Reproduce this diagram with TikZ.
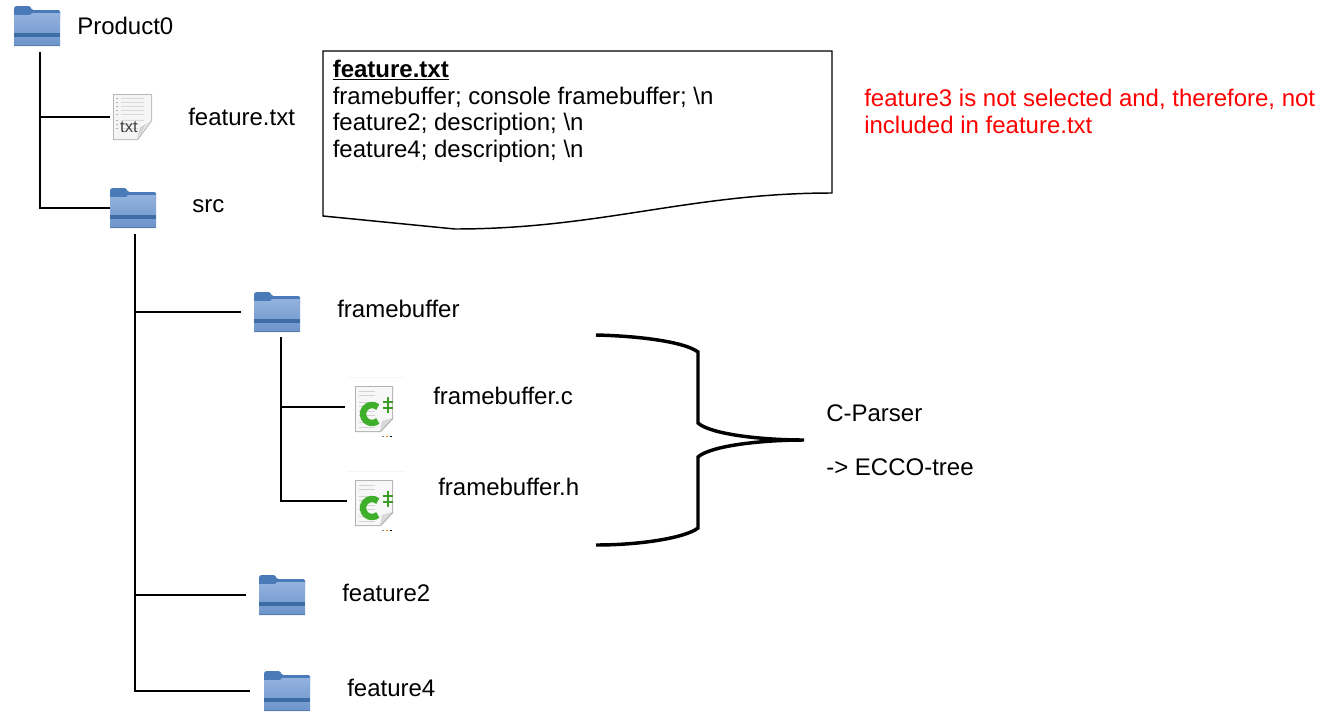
\documentclass[tikz,border=0pt]{standalone}
\usepackage{fontspec}
\setmainfont{Liberation Sans}
\usepackage{tikz}
\usetikzlibrary{positioning}
\definecolor{folderback}{HTML}{4A7AB8}
\definecolor{foldertop}{HTML}{93B2DE}
\definecolor{folderlow}{HTML}{6C94CB}
\definecolor{folderband}{HTML}{3D6CA6}
\definecolor{cgreen}{HTML}{3FAE2A}

\begin{document}
\begin{tikzpicture}[
		x=0.75pt,y=-0.75pt,
		every node/.style={font=\fontsize{18}{20}\selectfont,inner sep=0pt},
		link/.style={line width=0.9pt,black},
		lbl/.style={anchor=base west},
		folder/.style={minimum width=34.5pt,minimum height=30pt},
		txtfile/.style={minimum width=29.25pt,minimum height=34.5pt},
		cfile/.style={minimum width=45pt,minimum height=45pt},
		folderpic/.pic={
			\begin{scope}[shift={(-23,-20)}]
				\fill[folderback, rounded corners=1pt] (0,2) -- (1,0) -- (16,0) -- (18,4) -- (46,4) -- (46,14) -- (0,14) -- cycle;
				\shade[top color=foldertop, bottom color=folderlow] (0,9) -- (16,9) -- (18,7) -- (46,7) -- (46,40) -- (0,40) -- cycle;
				\fill[folderband] (0,27) rectangle (46,30.5);
				\fill[folderlow!85!black] (0,38.5) rectangle (46,40);
			\end{scope}
		},
		txtpic/.pic={
			\begin{scope}[shift={(-19.5,-23)}]
				\fill[gray!55] (0,0) -- (39,0) -- (39,27) -- (25,46) -- (0,46) -- cycle;
				\fill[gray!8] (1,1) -- (38,1) -- (38,26) -- (24,45) -- (1,45) -- cycle;
				\foreach \row in {4,8,12,16,20,26,30,34}{
					\fill[gray!60] (3,\row) rectangle (5,\row+1);
					\fill[gray!30] (8,\row) rectangle (31,\row+1);
				}
				\fill[white] (24,45) -- (26,31) -- (38,26) -- cycle;
				\fill[gray!35] (24,45) -- (27,33) -- (38,27) -- (33,31) -- cycle;
				\node[font=\fontsize{12.5}{14}\selectfont, text=black!75, anchor=base] at (16,38) {txt};
			\end{scope}
		},
		cpic/.pic={
			\begin{scope}[shift={(-30,-30)}]
				\draw[gray!8] (2,0.5) -- (60,0.5);
				\fill[gray!60] (10,9) -- (48,9) -- (48,42) -- (36,55) -- (10,55) -- cycle;
				\fill[gray!6] (11,10) -- (47,10) -- (47,41) -- (35,54) -- (11,54) -- cycle;
				\foreach \row in {14,18,25,29,34,38,45,50}{
					\fill[gray!35] (14,\row) rectangle (30,\row+0.8);
				}
				\fill[gray!30] (35,54) -- (37,44) -- (47,41) -- cycle;
				\draw[cgreen, line width=4.8pt] (32.8,30.1) arc[start angle=-50, end angle=-310, radius=9];
				\draw[cgreen!90!black, line width=1.9pt]
					(37.5,25) -- (48,25) (37.5,31) -- (48,31) (43,20) -- (43,36);
				\fill[gray] (37,58.5) rectangle (39,60);
				\fill[orange] (41,58.5) rectangle (43,60);
				\fill[black] (45,58.5) rectangle (47,60);
			\end{scope}
		}
		]
	\useasboundingbox (0,0) rectangle (1325,718);
	% Icons
	\node[folder] (product) at (37,26) {};
	\node[txtfile, outer xsep=2.25pt] (featurefile) at (132.5,117) {};
	\node[folder] (src) at (133,208) {};
	\node[folder, outer xsep=9.75pt] (fbfolder) at (277,312) {};
	\node[cfile] (fbc) at (375,407) {};
	\node[cfile, outer xsep=-1.5pt] (fbh) at (375,501) {};
	\node[folder, outer xsep=9.75pt] (ftwo) at (282,595) {};
	\node[folder, outer xsep=10.5pt] (ffour) at (287,691) {};
	\foreach \icon in {product,src,fbfolder,ftwo,ffour}
		\pic at (\icon) {folderpic};
	\pic at (featurefile) {txtpic};
	\foreach \icon in {fbc,fbh}
		\pic at (\icon) {cpic};
	
	% Labels
	\node[lbl] (productlbl) at (77,34) {Product0};
	\node[lbl] (featurelbl) at (188,125) {feature.txt};
	\node[lbl] (srclbl) at (192,212) {src};
	\node[lbl] (fblbl) at (337,317) {framebuffer};
	\node[lbl] (fbclbl) at (433,404) {framebuffer.c};
	\node[lbl] (fbhlbl) at (438,495) {framebuffer.h};
	\node[lbl] (ftwolbl) at (342,601) {feature2};
	\node[lbl] (ffourlbl) at (347,696) {feature4};
	\node[lbl] (parser) at (826,421) {C-Parser};
	\node[lbl] (eccotree) at (826,475) {-> ECCO-tree};
	\node[anchor=north west, align=left, text=red] (note) at (864,89)
		{feature3 is not selected and, therefore, not\\included in feature.txt};
	
	% Tree lines
	\coordinate (productroot) at ([shift={(3,6)}]product.south);
	\coordinate (srcroot) at ([shift={(2,6)}]src.south);
	\coordinate (fbroot) at ([shift={(4,5)}]fbfolder.south);
	\foreach \child in {featurefile,src}
		\draw[link] (productroot) |- (\child);
	\foreach \child in {fbfolder,ftwo,ffour}
		\draw[link] (srcroot) |- (\child);
	\foreach \child in {fbc,fbh}
		\draw[link] (fbroot) |- (\child);
	
	% File contents
	\draw[line width=1.1pt] (323,51) -- (832,51) -- (832,193)
		.. controls (690,193) and (600,229) .. (455,229)
		-- (323,216) -- cycle;
	\node[anchor=north west, align=left] (contents) at (332.5,60)
		{\underline{\textbf{feature.txt}}\\framebuffer; console framebuffer; \textbackslash n\\feature2; description; \textbackslash n\\feature4; description; \textbackslash n};
	
	% Brace
	\draw[line width=2.6pt] (596,335) .. controls (640,336) and (685,342) .. (698,352)
		-- (698,423) .. controls (710,434) and (760,440) .. (804,440)
		.. controls (760,440) and (710,446) .. (698,457)
		-- (698,528) .. controls (685,538) and (640,545) .. (596,545);
\end{tikzpicture}
\end{document}
